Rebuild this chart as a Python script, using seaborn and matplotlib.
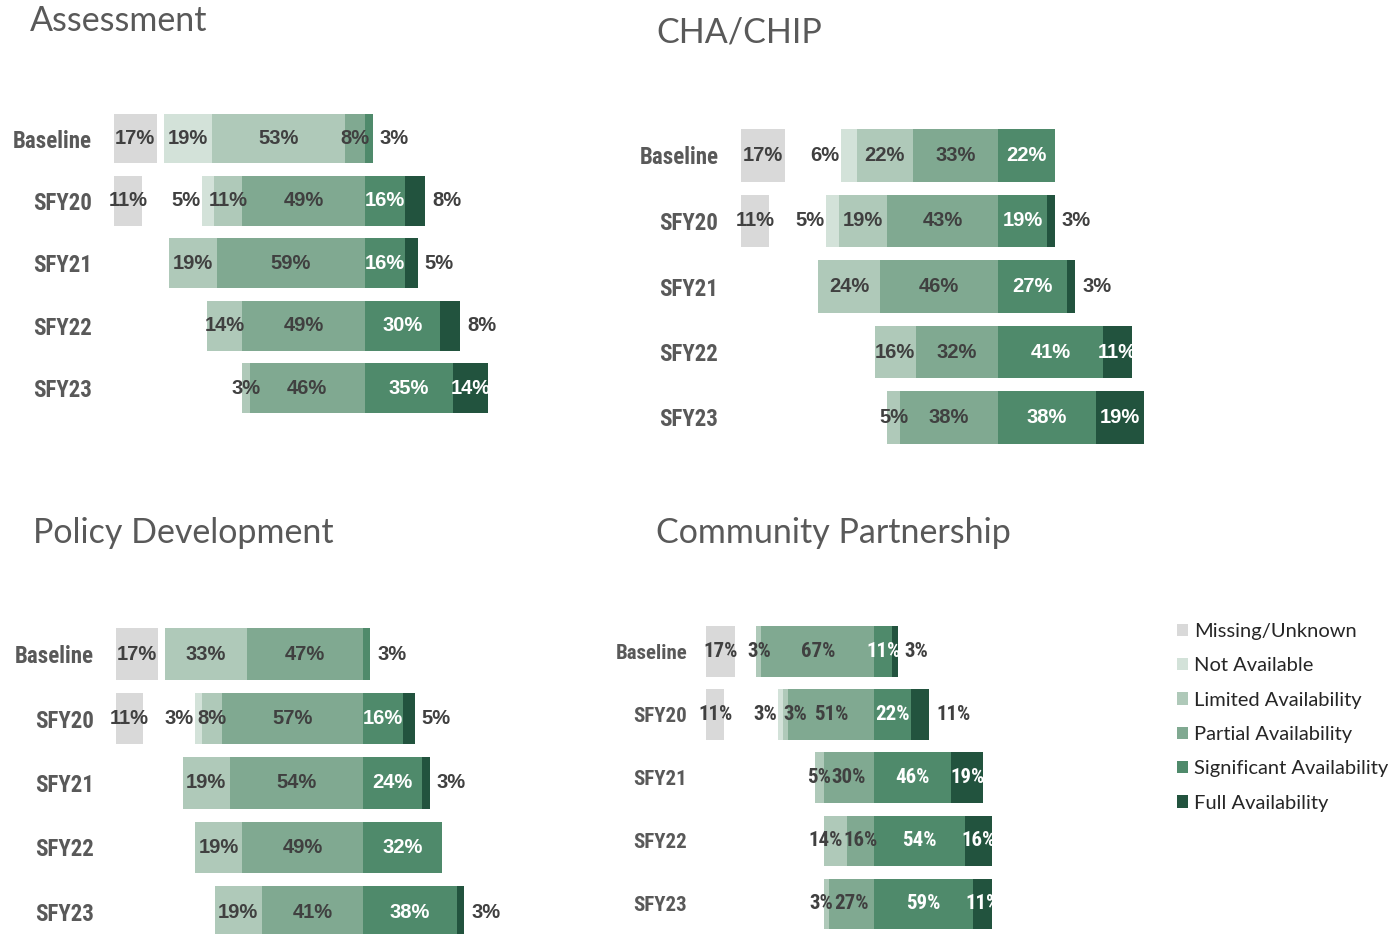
import numpy as np
import pandas as pd
import matplotlib.pyplot as plt
from matplotlib.patches import Patch
from matplotlib import font_manager as fm
import seaborn as sns

# שורות וקטגוריות
years = ["Baseline", "SFY20", "SFY21", "SFY22", "SFY23"]
levels = ["Missing/Unknown", "Not Available", "Limited Availability",
          "Partial Availability", "Significant Availability", "Full Availability"]
level_colors = ["#d9d9d9", "#d3e2d9", "#afc9b9", "#80a991", "#4f8a6b", "#22533e"]

# Assessment
assess_missing = [17, 11, 0, 0, 0]
assess_not_avail = [19, 5, 0, 0, 0]
assess_limited = [53, 11, 19, 14, 3]
assess_partial = [8, 49, 59, 49, 46]
assess_significant = [3, 16, 16, 30, 35]
assess_full = [0, 8, 5, 8, 14]

# CHA/CHIP
cha_missing = [17, 11, 0, 0, 0]
cha_not_avail = [6, 5, 0, 0, 0]
cha_limited = [22, 19, 24, 16, 5]
cha_partial = [33, 43, 46, 32, 38]
cha_significant = [22, 19, 27, 41, 38]
cha_full = [0, 3, 3, 11, 19]

# Policy Development
policy_missing = [17, 11, 0, 0, 0]
policy_not_avail = [0, 3, 0, 0, 0]
policy_limited = [33, 8, 19, 19, 19]
policy_partial = [47, 57, 54, 49, 41]
policy_significant = [3, 16, 24, 32, 38]
policy_full = [0, 5, 3, 0, 3]

# Community Partnership
comm_missing = [17, 11, 0, 0, 0]
comm_not_avail = [0, 3, 0, 0, 0]
comm_limited = [3, 3, 5, 14, 3]
comm_partial = [67, 51, 30, 16, 27]
comm_significant = [11, 22, 46, 54, 59]
comm_full = [3, 11, 19, 16, 11]

W, H = 1397, 934
sns.set_theme(style="white")
plt.rcParams['font.family'] = ['Lato', 'DejaVu Sans']

# חיפוש גופן צר ומודגש
files = [f.fname for f in fm.fontManager.ttflist]
narrow_file = None
for pat in ["LiberationSansNarrow-Bold.", "RobotoCondensed-Bold.", "DejaVuSansCondensed-Bold.",
            "NotoSans-CondensedBold.", "OpenSans-CondensedBold.", "OpenSans_Condensed-Bold."]:
    hits = [p for p in files if pat in p.replace("\\", "/").split("/")[-1]]
    if hits:
        narrow_file = hits[0]
        break


def narrow(size):
    if narrow_file:
        return fm.FontProperties(fname=narrow_file, size=size)
    return fm.FontProperties(family=['Liberation Sans', 'DejaVu Sans'], weight="bold", size=size * 0.85)


def wide(size):
    return fm.FontProperties(family=['Liberation Sans', 'DejaVu Sans'], weight="bold", size=size)


title_font = ['Lato', 'DejaVu Sans']
dark = "#404040"

fig = plt.figure(figsize=(W / 100, H / 100), dpi=100)


def make_frame(missing, not_avail, limited, partial, significant, full):
    return pd.DataFrame({"year": years, levels[0]: missing, levels[1]: not_avail,
                         levels[2]: limited, levels[3]: partial,
                         levels[4]: significant, levels[5]: full})


# פאנל: מרכז, קנה מידה (פיקסלים לאחוז), שורה ראשונה, מרווח, גבולות, כותרת
panels = [
    ("Assessment", make_frame(assess_missing, assess_not_avail, assess_limited,
                              assess_partial, assess_significant, assess_full),
     365, 2.51, 138.5, 62.4, (-108, 62), (30, 21), set(), narrow(16.5), wide(14.5)),
    ("CHA/CHIP", make_frame(cha_missing, cha_not_avail, cha_limited,
                            cha_partial, cha_significant, cha_full),
     998, 2.57, 155.5, 65.5, (-108, 62), (656, 32), set(), narrow(16.5), wide(14.5)),
    ("Policy Development", make_frame(policy_missing, policy_not_avail, policy_limited,
                                      policy_partial, policy_significant, policy_full),
     363, 2.47, 654, 64.5, (-108, 62), (33, 533), set(), narrow(16.5), wide(14.5)),
    ("Community Partnership", make_frame(comm_missing, comm_not_avail, comm_limited,
                                         comm_partial, comm_significant, comm_full),
     874, 1.68, 651.5, 63.1, (-110, 75), (656, 533), {"SFY20"}, narrow(15), narrow(15)),
]

px_per_pt = 100 / 72
row_texts = []

for title, df, center, scale, row0, step, xlim, tpos, force_out, ylab_prop, pct_prop in panels:
    left_px = center + xlim[0] * scale
    width_px = (xlim[1] - xlim[0]) * scale
    top_px = row0 - 0.6 * step
    height_px = 5.2 * step
    ax = fig.add_axes([left_px / W, 1 - (top_px + height_px) / H, width_px / W, height_px / H])

    na, lim, par = df[levels[1]], df[levels[2]], df[levels[3]]
    sig, full = df[levels[4]], df[levels[5]]

    # שכבות מצטברות - הרחבה קודם
    layers = [(-(na + lim + par), level_colors[1]), (-(lim + par), level_colors[2]),
              (-par, level_colors[3]), (sig + full, level_colors[5]), (sig, level_colors[4])]
    for vals, c in layers:
        sns.barplot(x=vals.values, y=years, orient="h", color=c, width=0.8,
                    linewidth=0, errorbar=None, ax=ax, saturation=1)
    ax.barh(range(len(years)), df[levels[0]], left=-100, height=0.8,
            color=level_colors[0], linewidth=0)

    ax.set_xlim(*xlim)
    ax.set_ylim(4.6, -0.6)
    ax.set_xticks([])
    ax.set_xlabel("")
    ax.set_ylabel("")
    ax.tick_params(axis="y", length=0, pad=1.5)
    ax.set_yticks(range(len(years)))
    ax.set_yticklabels(years, color="#595959", fontproperties=ylab_prop)
    sns.despine(ax=ax, left=True, bottom=True)

    # תוויות אחוזים
    for i, yr in enumerate(years):
        row = df.iloc[i]
        if row[levels[0]] > 0:
            ax.text(-100 + row[levels[0]] / 2, i, f"{row[levels[0]]}%", ha="center",
                    va="center", color=dark, fontproperties=pct_prop)
        start = -(row[levels[1]] + row[levels[2]] + row[levels[3]])
        segs = []
        pos = start
        for k in range(1, 6):
            v = row[levels[k]]
            if v > 0:
                segs.append((k, pos, v))
            pos += v
        left_labels = []
        for j, (k, x0, v) in enumerate(segs):
            txt = f"{v}%"
            col = "white" if k >= 4 else dark
            kw = dict(va="center", fontproperties=pct_prop)
            if j == 0 and k == 1 and v <= 6:
                t = ax.text(x0 - 1 * px_per_pt / scale, i, txt, ha="right", color=dark, **kw)
            elif k == 2 and v < 5 and j > 0:
                t = ax.text(x0, i, txt, ha="left", color=dark, **kw)
            elif j == len(segs) - 1 and (v <= 8 or yr in force_out) and k >= 4:
                t = ax.text(x0 + v + 5 * px_per_pt / scale, i, txt, ha="left", color=dark, **kw)
            else:
                t = ax.text(x0 + v / 2, i, txt, ha="center", color=col, **kw)
            if k <= 3:
                left_labels.append(t)
        row_texts.append((scale, left_labels))

    fig.text(tpos[0] / W, 1 - tpos[1] / H, title, fontsize=24.5, color="#595959",
             family=title_font, ha="left", va="center")

# הזזת תוויות חופפות בצד שמאל
fig.canvas.draw()
renderer = fig.canvas.get_renderer()
for scale, labels in row_texts:
    for a in range(len(labels) - 2, -1, -1):
        ta, tb = labels[a], labels[a + 1]
        ea, eb = ta.get_window_extent(renderer), tb.get_window_extent(renderer)
        overlap = ea.x1 - eb.x0 + 1
        if overlap > 0:
            x, y = ta.get_position()
            ta.set_position((x - overlap / scale, y))

handles = [Patch(facecolor=c, edgecolor="none") for c in level_colors]
fig.legend(handles, levels, loc="upper left", bbox_to_anchor=(1177 / W, 1 - 623 / H),
           frameon=False, handlelength=0.55, handleheight=0.55, handletextpad=0.3,
           labelspacing=0.86, prop={"family": title_font, "size": 14.5},
           labelcolor="#262626", borderaxespad=0, borderpad=0)

fig.savefig("out.png", dpi=100)
